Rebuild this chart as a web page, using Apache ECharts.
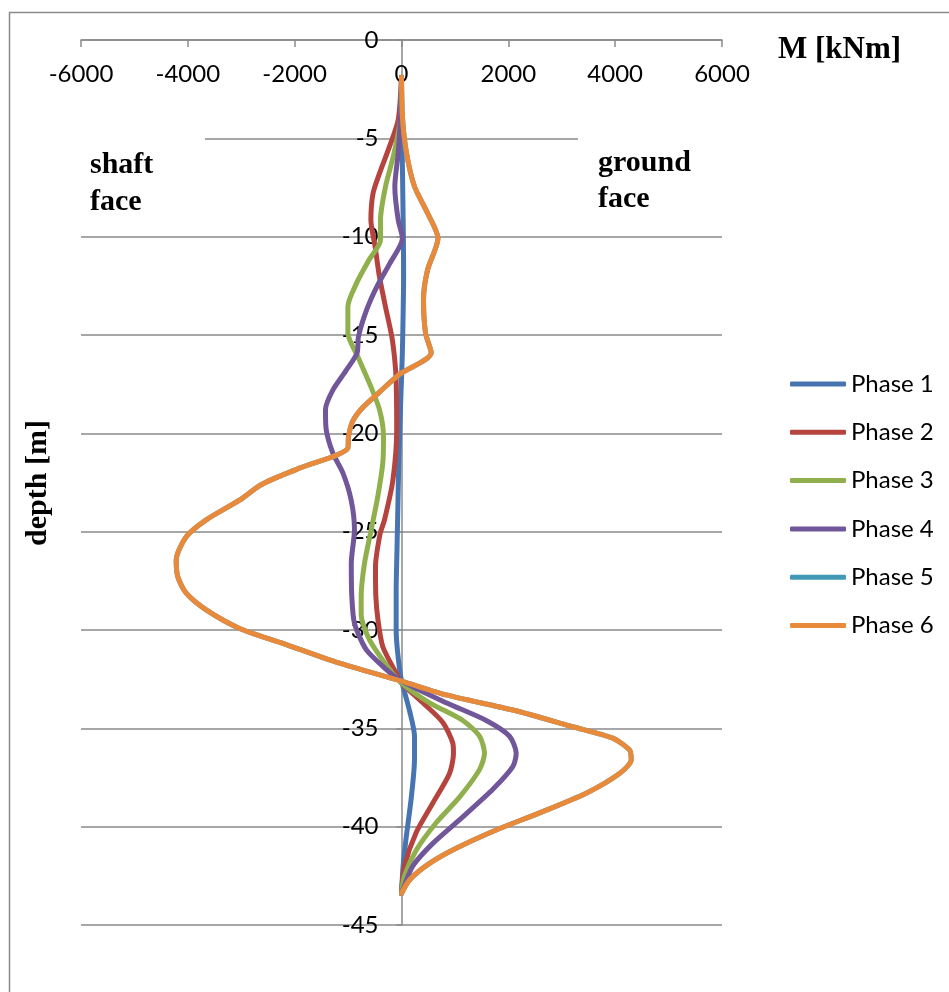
<!DOCTYPE html>
<html>
<head>
<meta charset="utf-8">
<script src="https://cdn.jsdelivr.net/npm/echarts@6/dist/echarts.min.js"></script>
<style>
html,body{margin:0;padding:0;background:#fff;}
#chart{width:949px;height:992px;}
</style>
</head>
<body>
<div id="chart"></div>
<script>
// ---- data ----
var xTicks = [-6000, -4000, -2000, 0, 2000, 4000, 6000];
var yTicks = [0, -5, -10, -15, -20, -25, -30, -35, -40, -45];
var seriesNames = ['Phase 1', 'Phase 2', 'Phase 3', 'Phase 4', 'Phase 5', 'Phase 6'];

var phase1Depth  = [-1.9, -4, -6, -8, -10, -12, -14, -16, -18, -20, -22, -24, -26, -28, -30, -31.2, -32.5, -34.1, -35.4, -36.6, -38.6, -40.5, -42, -43.4];
var phase1Moment = [0, 0, 15, 25, 35, 40, 30, 15, -10, -35, -55, -70, -85, -100, -100, -70, -5, 150, 243, 243, 180, 90, 30, 0];

var phase2Depth  = [-1.9, -4.07, -5.42, -6.78, -7.8, -9.15, -10.5, -12.0, -13.56, -15.1, -16.3, -17.3, -19.8, -22.4, -24.4, -25.1, -26.8, -28.3, -29.5, -30.85, -32.2, -32.7, -33.7, -34.7, -35.76, -36.27, -37.3, -38.8, -40.3, -42.0, -43.3];
var phase2Moment = [0, -62, -225, -412, -533, -573, -494, -415, -300, -180, -125, -100, -90, -162, -318, -400, -487, -480, -440, -350, -100, 0, 400, 774, 961, 973, 899, 587, 275, 56, 0];

var phase3Depth  = [-1.9, -4.07, -5.76, -7.46, -9.15, -10.17, -11.2, -12.4, -13.56, -14.9, -16.1, -17.46, -18.8, -20.17, -21.5, -23.2, -24.9, -26.6, -28.3, -29.2, -30.5, -32.0, -32.7, -33.7, -34.6, -35.4, -36.27, -37.1, -38.5, -39.8, -41.2, -42.5, -43.4];
var phase3Moment = [0, -22, -140, -300, -393, -393, -612, -848, -1004, -1004, -818, -599, -412, -337, -350, -443, -567, -692, -755, -755, -599, -225, 0, 524, 1148, 1460, 1554, 1460, 1086, 649, 275, 56, 0];

var phase4Depth  = [-1.9, -4.07, -5.76, -7.46, -9.15, -10.08, -11.36, -12.5, -13.7, -15.1, -15.9, -16.8, -17.8, -18.8, -19.8, -21.0, -22.0, -23.4, -24.9, -26.6, -28.3, -29.66, -31.0, -32.0, -32.6, -33.7, -34.6, -35.4, -36.27, -36.95, -38.1, -39.5, -40.85, -42.0, -43.2, -43.4];
var phase4Moment = [0, -22, -62, -125, -62, 17, -218, -454, -650, -807, -830, -1036, -1286, -1423, -1410, -1286, -1099, -942, -880, -940, -930, -880, -660, -287, 0, 837, 1586, 2022, 2147, 2084, 1710, 1148, 586, 212, 25, 0];

var phase5Depth  = [-1.9, -4.0, -5.75, -7.45, -8.8, -10.08, -11.7, -13.2, -14.9, -15.9, -17.0, -17.9, -18.7, -19.4, -20.17, -20.76, -21.77, -22.6, -23.4, -24.4, -25.26, -26.44, -27.29, -28.13, -28.98, -29.92, -30.68, -31.69, -32.6, -33.3, -34.07, -34.92, -35.5, -36.1, -36.6, -37.3, -38.3, -39.3, -40.17, -41.1, -41.87, -42.71, -43.39];
var phase5Moment = [0, 20, 94, 243, 487, 683, 487, 412, 450, 556, -37, -412, -730, -917, -992, -1005, -1909, -2620, -3033, -3656, -4030, -4218, -4188, -4030, -3656, -3033, -2222, -1161, 0, 837, 2084, 3207, 3956, 4268, 4300, 4081, 3458, 2583, 1773, 1024, 524, 150, 0];

var phase6Depth  = [-1.9, -4.0, -5.75, -7.45, -8.8, -10.08, -11.7, -13.2, -14.9, -15.9, -17.0, -17.9, -18.7, -19.4, -20.17, -20.76, -21.77, -22.6, -23.4, -24.4, -25.26, -26.44, -27.29, -28.13, -28.98, -29.92, -30.68, -31.69, -32.6, -33.3, -34.07, -34.92, -35.5, -36.1, -36.6, -37.3, -38.3, -39.3, -40.17, -41.1, -41.87, -42.71, -43.39];
var phase6Moment = [0, 20, 94, 243, 487, 683, 487, 412, 450, 556, -37, -412, -730, -917, -992, -1005, -1909, -2620, -3033, -3656, -4030, -4218, -4188, -4030, -3656, -3033, -2222, -1161, 0, 837, 2084, 3207, 3956, 4268, 4300, 4081, 3458, 2583, 1773, 1024, 524, 150, 0];

var depths  = [phase1Depth, phase2Depth, phase3Depth, phase4Depth, phase5Depth, phase6Depth];
var moments = [phase1Moment, phase2Moment, phase3Moment, phase4Moment, phase5Moment, phase6Moment];
var colors  = ['#4675b2', '#b5443f', '#8fb04c', '#71579a', '#4199b6', '#e98a3b'];

// ---- chart ----
var chart = echarts.init(document.getElementById('chart'), null, {renderer: 'canvas'});
var gridCol = '#8a8a8a';
var labelFont = 'Lato';
var gridLeft = 81, gridWidth = 641;
var serifBold = {fontFamily: '"Liberation Serif", "Times New Roman", serif', fontWeight: 'bold', fontSize: 30, fill: '#000'};

var series = seriesNames.map(function (name, k) {
  return {
    name: name,
    type: 'line',
    data: moments[k].map(function (m, i) { return [m, depths[k][i]]; }),
    showSymbol: false,
    symbol: 'none',
    smooth: 0.25,
    lineStyle: {width: 5, color: colors[k], cap: 'round', join: 'round'},
    itemStyle: {color: colors[k]},
    emphasis: {disabled: true},
    z: 3 + k
  };
});

chart.setOption({
  animation: false,
  backgroundColor: '#fff',
  color: colors,
  grid: {left: gridLeft, top: 40, width: gridWidth, height: 885, containLabel: false},
  xAxis: {
    type: 'value',
    position: 'top',
    min: xTicks[0],
    max: xTicks[xTicks.length - 1],
    interval: 2000,
    axisLine: {show: true, onZero: false, lineStyle: {color: gridCol, width: 1.5}},
    axisTick: {show: true, inside: true, length: 7, lineStyle: {color: gridCol, width: 1.5}},
    axisLabel: {inside: true, margin: 22, fontFamily: labelFont, fontSize: 24, color: '#000',
      formatter: function (v) { return String(v); }},
    splitLine: {show: false}
  },
  yAxis: {
    type: 'value',
    position: 'left',
    offset: -(gridWidth / 2),
    min: yTicks[yTicks.length - 1],
    max: yTicks[0],
    interval: 5,
    axisLine: {show: true, onZero: false, lineStyle: {color: gridCol, width: 1.5}},
    axisTick: {show: true, length: 5, lineStyle: {color: gridCol, width: 1.5}},
    axisLabel: {margin: 23, fontFamily: labelFont, fontSize: 24, color: '#000',
      formatter: function (v) { return String(v); }},
    splitLine: {show: true, lineStyle: {color: gridCol, width: 1.5}}
  },
  legend: {
    orient: 'vertical',
    left: 790,
    top: 372,
    padding: 0,
    itemWidth: 56,
    itemHeight: 5,
    itemGap: 24.3,
    icon: 'roundRect',
    data: seriesNames,
    textStyle: {fontFamily: labelFont, fontSize: 24, color: '#000', lineHeight: 24},
    selectedMode: false
  },
  graphic: [
    {type: 'rect', left: 7, top: 10, shape: {width: 1000, height: 1100}, style: {fill: 'none', stroke: '#8a8a8a', lineWidth: 1.5}, z: 0, silent: true},
    {type: 'rect', left: 70, top: 130, shape: {width: 135, height: 16}, style: {fill: '#fff'}, z: 10, silent: true},
    {type: 'rect', left: 578, top: 130, shape: {width: 160, height: 16}, style: {fill: '#fff'}, z: 10, silent: true},
    {type: 'text', left: 90, top: 147, style: Object.assign({text: 'shaft\nface', lineHeight: 37}, serifBold), z: 11},
    {type: 'text', left: 598, top: 145, style: Object.assign({text: 'ground\nface', lineHeight: 36}, serifBold), z: 11},
    {type: 'text', left: 778, top: 34, style: Object.assign({text: 'M [kNm]'}, serifBold, {fontSize: 31}), z: 11},
    {type: 'text', x: 38, y: 483, rotation: Math.PI / 2, style: Object.assign({text: 'depth [m]', align: 'center', verticalAlign: 'middle'}, serifBold), z: 11}
  ],
  series: series
});
</script>
</body>
</html>
